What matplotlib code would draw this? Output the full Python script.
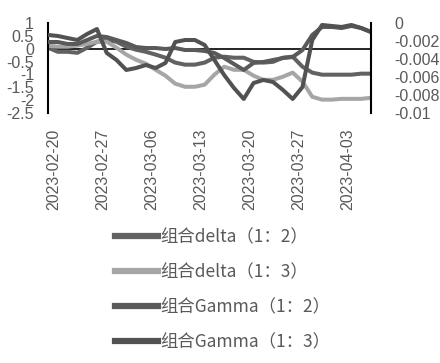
import matplotlib
matplotlib.use("Agg")
import matplotlib.pyplot as plt
from matplotlib.transforms import ScaledTranslation

plt.rcParams['font.family'] = ['Liberation Sans', 'Noto Sans CJK SC', 'DejaVu Sans']

dates = ["2023-02-20", "2023-02-21", "2023-02-22", "2023-02-23", "2023-02-24",
         "2023-02-27", "2023-02-28", "2023-03-01", "2023-03-02", "2023-03-03",
         "2023-03-06", "2023-03-07", "2023-03-08", "2023-03-09", "2023-03-10",
         "2023-03-13", "2023-03-14", "2023-03-15", "2023-03-16", "2023-03-17",
         "2023-03-20", "2023-03-21", "2023-03-22", "2023-03-23", "2023-03-24",
         "2023-03-27", "2023-03-28", "2023-03-29", "2023-03-30", "2023-03-31",
         "2023-04-03", "2023-04-04", "2023-04-06", "2023-04-07"]

delta_12 = [0.04, -0.12, -0.12, -0.16, 0.04, 0.27, 0.35, 0.27, 0.08, -0.04,
            -0.12, -0.23, -0.35, -0.54, -0.62, -0.62, -0.54, -0.35, -0.31, -0.35,
            -0.35, -0.51, -0.54, -0.51, -0.35, -0.31, -0.70, -0.93, -1.01, -1.01,
            -1.01, -1.01, -0.97, -0.97]
delta_13 = [0.12, 0.08, 0.08, 0.12, 0.19, 0.27, 0.27, 0.04, -0.23, -0.43,
            -0.58, -0.82, -1.05, -1.36, -1.48, -1.48, -1.40, -1.01, -0.70, -0.82,
            -0.82, -1.05, -1.21, -1.21, -1.09, -0.93, -1.28, -1.87, -1.98, -1.98,
            -1.95, -1.95, -1.95, -1.91]
gamma_12 = [-0.00211, -0.00211, -0.00233, -0.00233, -0.00189, -0.00144, -0.00156, -0.00189,
            -0.00222, -0.00267, -0.00278, -0.00278, -0.00289, -0.00278, -0.00300, -0.00300,
            -0.00311, -0.00333, -0.00389, -0.00456, -0.00522, -0.00444, -0.00433, -0.00411,
            -0.00389, -0.00378, -0.00300, -0.00133, -0.00044, -0.00044, -0.00056, -0.00033,
            -0.00056, -0.00100]
gamma_13 = [-0.00133, -0.00144, -0.00167, -0.00189, -0.00122, -0.00067, -0.00333, -0.00411,
            -0.00522, -0.00500, -0.00467, -0.00500, -0.00444, -0.00211, -0.00189, -0.00189,
            -0.00244, -0.00411, -0.00578, -0.00722, -0.00844, -0.00667, -0.00633, -0.00656,
            -0.00744, -0.00844, -0.00711, -0.00189, -0.00022, -0.00033, -0.00044, -0.00022,
            -0.00056, -0.00100]

labels = ["组合delta（1：2）", "组合delta（1：3）", "组合Gamma（1：2）", "组合Gamma（1：3）"]
colors = ["#626262", "#a6a6a6", "#5a5a5a", "#525252"]

left_ticks = [1, 0.5, 0, -0.5, -1, -1.5, -2, -2.5]
left_ticklabels = ["1", "0.5", "0", "-0.5", "-1", "-1.5", "-2", "-2.5"]
right_ticks = [0, -0.002, -0.004, -0.006, -0.008, -0.01]
right_ticklabels = ["0", "-0.002", "-0.004", "-0.006", "-0.008", "-0.01"]

x = list(range(len(dates)))
tick_idx = [0, 5, 10, 15, 20, 25, 30]

fig = plt.figure(figsize=(4.4, 3.63), dpi=100)
ax = fig.add_axes([48/440, 1-113/363, (371-48)/440, 90/363])
ax2 = ax.twinx()

lw = 2.9
h1, = ax.plot(x, delta_12, color=colors[0], lw=lw, solid_joinstyle='round', label=labels[0])
h2, = ax.plot(x, delta_13, color=colors[1], lw=lw, solid_joinstyle='round', label=labels[1])
ax.axhline(0, color='black', lw=1.2, zorder=1)
h3, = ax2.plot(x, gamma_12, color=colors[2], lw=lw, solid_joinstyle='round', label=labels[2])
h4, = ax2.plot(x, gamma_13, color=colors[3], lw=lw, solid_joinstyle='round', label=labels[3])

ax.set_xlim(0, len(dates)-1)
ax.set_ylim(-2.5, 1)
ax2.set_ylim(-0.01, 0)

tcol = "#595959"
fs = 11.5
ax.set_yticks(left_ticks)
ax.set_yticklabels(left_ticklabels, fontsize=fs, color=tcol)
ax2.set_yticks(right_ticks)
ax2.set_yticklabels(right_ticklabels, fontsize=fs, color=tcol)
ax.set_xticks(tick_idx)
ax.set_xticklabels([dates[i] for i in tick_idx], rotation=90, fontsize=fs, color=tcol)

ax.tick_params(axis='y', length=0, pad=10)
ax2.tick_params(axis='y', length=0, pad=17)
ax.tick_params(axis='x', length=0, pad=11)

for lab in ax.get_xticklabels():
    lab.set_transform(lab.get_transform() + ScaledTranslation(6/100, 0, fig.dpi_scale_trans))

for a in (ax, ax2):
    a.spines['top'].set_visible(False)
    a.spines['bottom'].set_visible(False)
    a.spines['left'].set_color('black')
    a.spines['right'].set_color('black')
    a.spines['left'].set_linewidth(1.5)
    a.spines['right'].set_linewidth(1.5)
    a.patch.set_visible(False)
ax2.spines['left'].set_visible(False)
ax.spines['right'].set_visible(False)

leg = fig.legend(handles=[h1, h2, h3, h4], labels=labels, loc='upper left',
                 bbox_to_anchor=(115/440, 1-228/363), frameon=False,
                 prop={'family': ['Noto Sans CJK SC', 'DejaVu Sans'], 'size': 12.5},
                 handlelength=2.5, handletextpad=0.12, labelspacing=0.98,
                 borderpad=0, borderaxespad=0)
for t in leg.get_texts():
    t.set_color(tcol)
for l in leg.get_lines():
    l.set_linewidth(4.5)

fig.savefig("out.png", dpi=100)
